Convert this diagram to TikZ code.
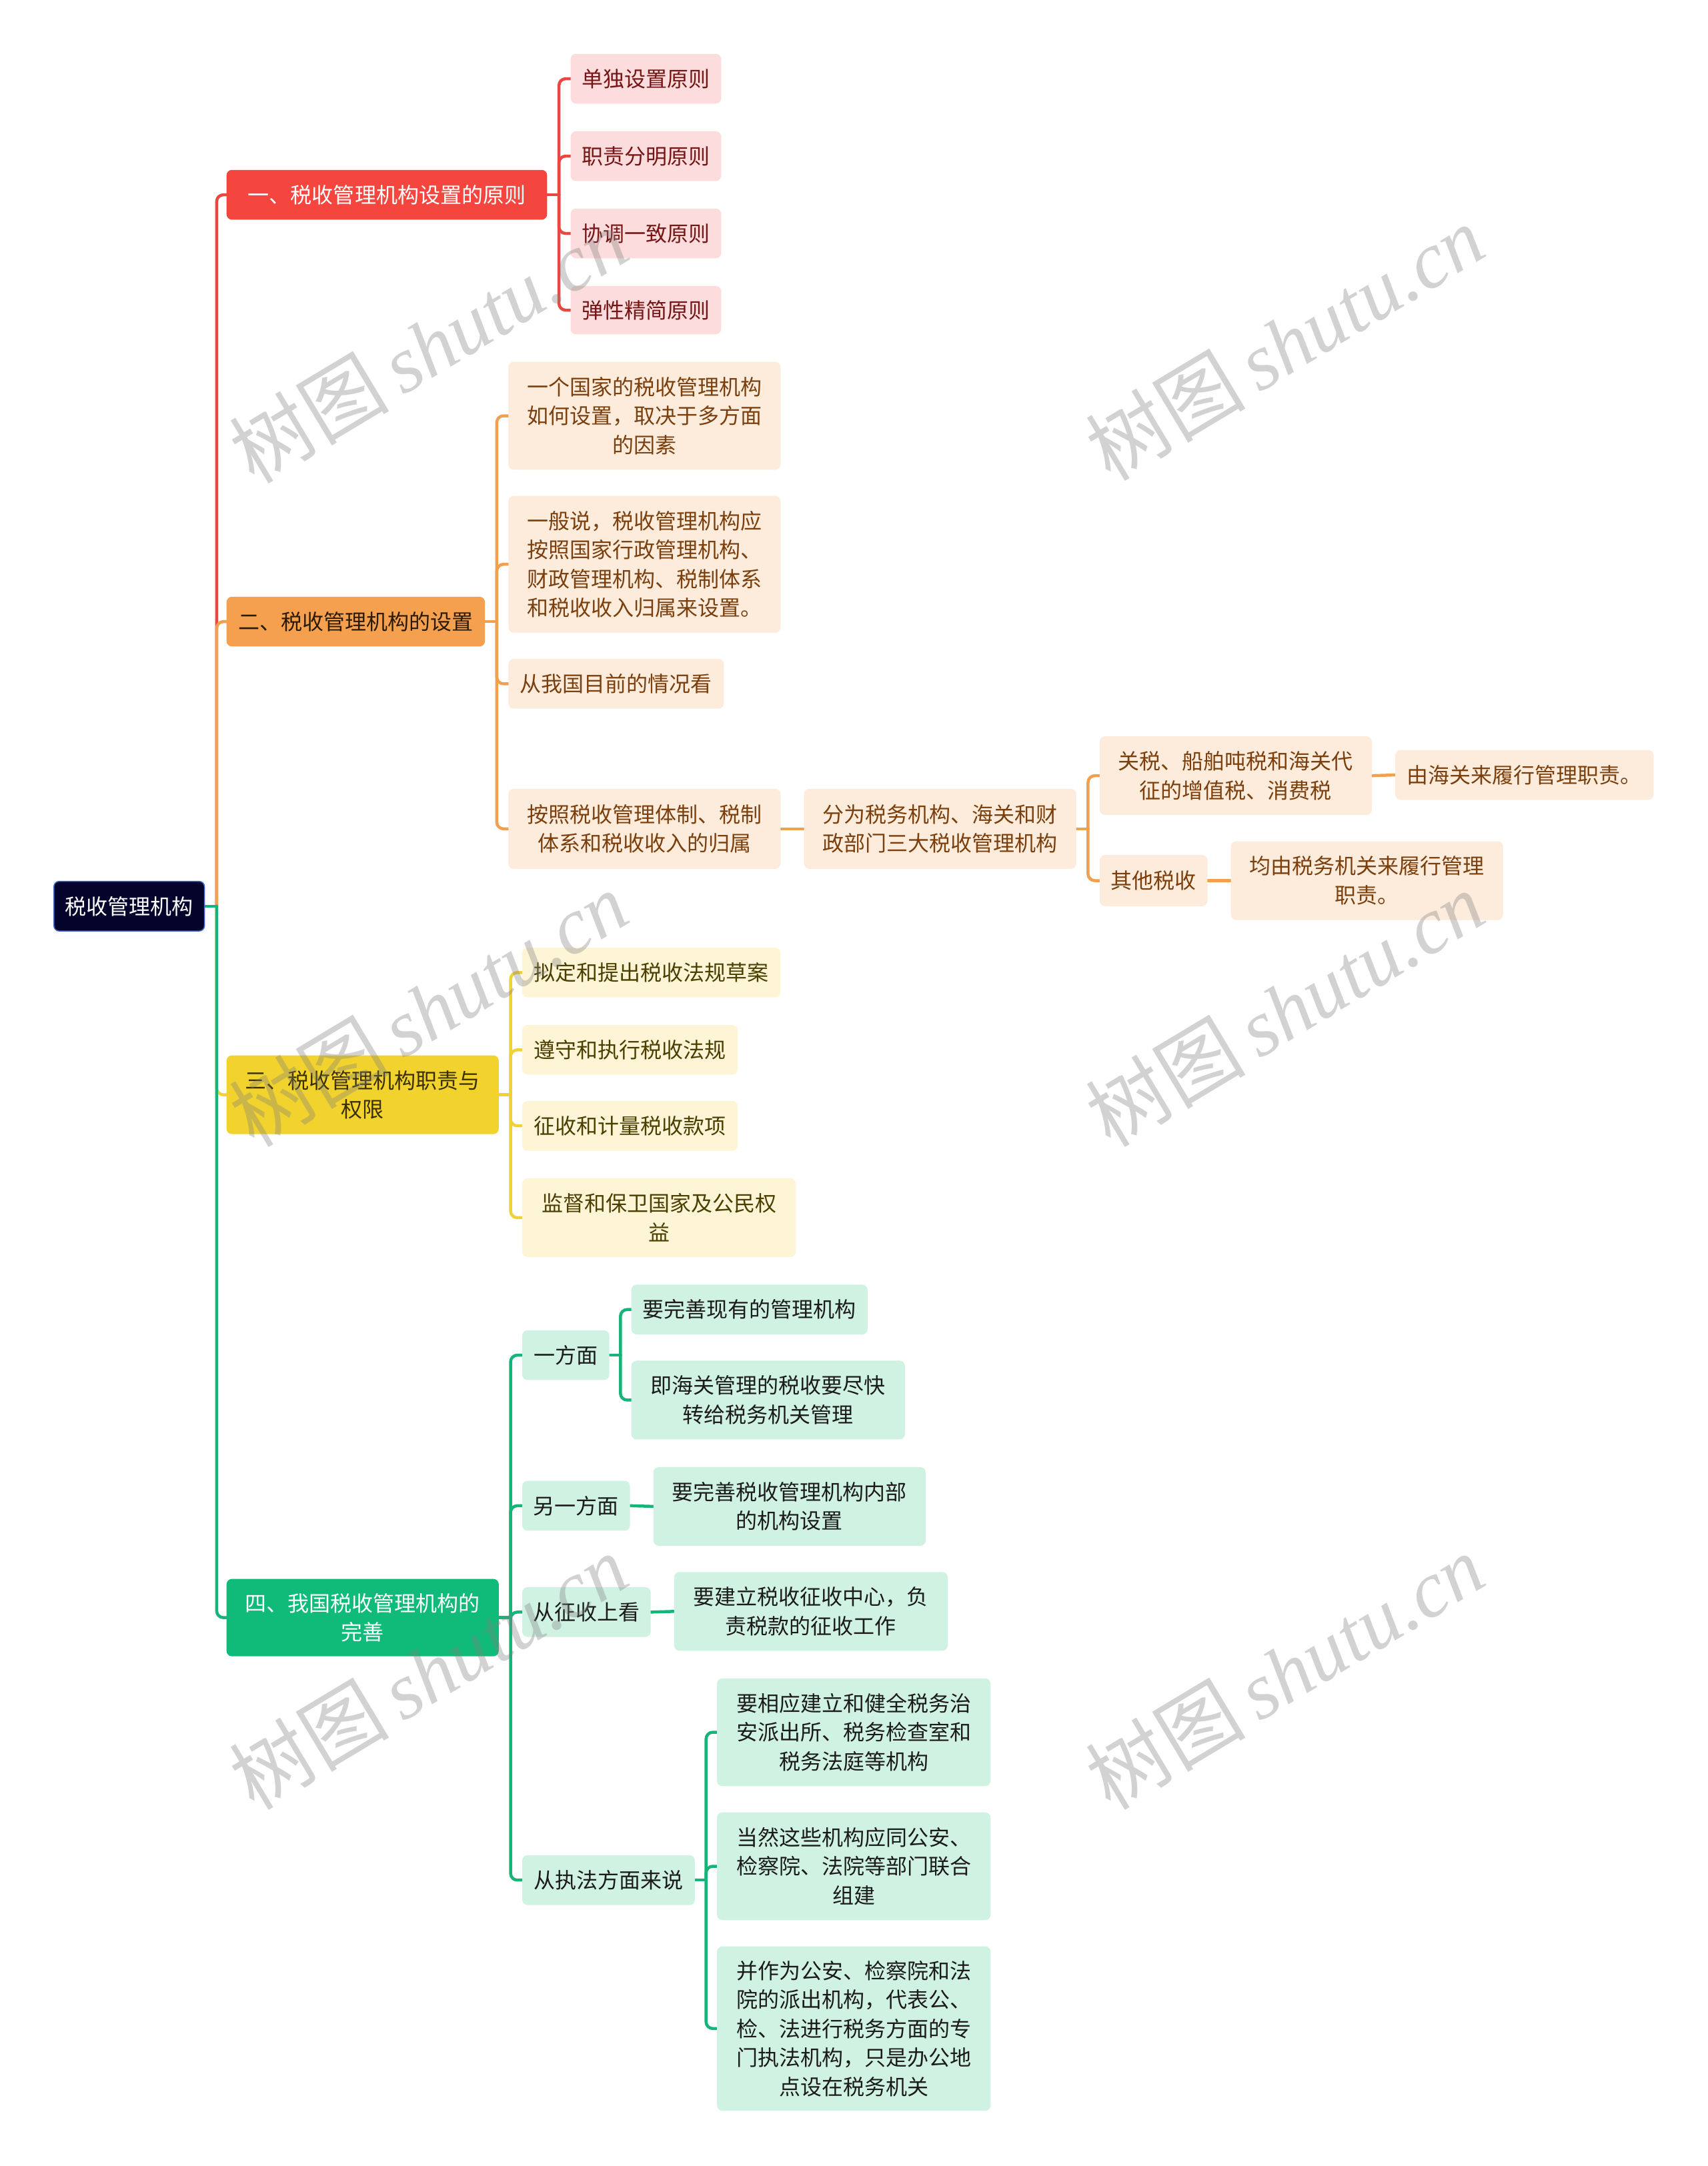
\documentclass[tikz,border=0pt]{standalone}
\usepackage{fontspec}
\setmainfont{Noto Sans CJK SC}
\newfontfamily\wmcjk{Noto Sans CJK SC}
\newfontfamily\wmlat{Liberation Serif}
\usetikzlibrary{calc,backgrounds}
\definecolor{rootfill}{HTML}{03032B}
\definecolor{rootdraw}{HTML}{4267C4}
\definecolor{redfill}{HTML}{F4463E}
\definecolor{redline}{HTML}{E8483F}
\definecolor{pinkfill}{HTML}{FCDCDC}
\definecolor{pinktext}{HTML}{761515}
\definecolor{orgfill}{HTML}{F5A04E}
\definecolor{orgline}{HTML}{F0A050}
\definecolor{orgtext}{HTML}{2B1A05}
\definecolor{peachfill}{HTML}{FDECDC}
\definecolor{peachtext}{HTML}{7B3F0D}
\definecolor{yelfill}{HTML}{F2D22C}
\definecolor{yelline}{HTML}{EFD23A}
\definecolor{yeltext}{HTML}{3A2F00}
\definecolor{lyfill}{HTML}{FDF5D5}
\definecolor{lytext}{HTML}{4A3F00}
\definecolor{grnfill}{HTML}{10BB79}
\definecolor{grnline}{HTML}{17B47A}
\definecolor{mintfill}{HTML}{D0F2E3}
\definecolor{minttext}{HTML}{1B1B1B}
\newcommand\mmbox[7]{\node[#2, minimum width={(#5-#3)*2.0712pt}, minimum height={(#6-#4)*2.0712pt}] (#1) at ({(#3+#5)/2},{(#4+#6)/2}) {#7};}
\begin{document}
\begin{tikzpicture}[x=2.0712pt,y=-2.0712pt,
  base/.style={rounded corners=8pt, inner sep=0pt, align=center, font=\fontsize{32}{43.5}\selectfont},
  rootbox/.style={base, fill=rootfill, draw=rootdraw, line width=1.5pt, text=white},
  redbox/.style={base, fill=redfill, text=white},
  pinkbox/.style={base, fill=pinkfill, text=pinktext},
  orgbox/.style={base, fill=orgfill, text=orgtext},
  peachbox/.style={base, fill=peachfill, text=peachtext},
  yelbox/.style={base, fill=yelfill, text=yeltext},
  lybox/.style={base, fill=lyfill, text=lytext},
  grnbox/.style={base, fill=grnfill, text=white},
  mintbox/.style={base, fill=mintfill, text=minttext},
  lk/.style={line width=4.5pt, line cap=round, line join=round},
  rc/.style={lk, rounded corners=10pt},
  wm/.style={text=gray, text opacity=0.35, inner sep=0pt, rotate=31}
]
\useasboundingbox (0,0) rectangle (1236,1568);

% nodes
\mmbox{root}{rootbox}{39}{638}{148}{674}{税收管理机构}
\mmbox{A}{redbox}{164}{123}{396}{159}{一、税收管理机构设置的原则}
\mmbox{A1}{pinkbox}{413}{39}{522}{75}{单独设置原则}
\mmbox{A2}{pinkbox}{413}{95}{522}{131}{职责分明原则}
\mmbox{A3}{pinkbox}{413}{151}{522}{187}{协调一致原则}
\mmbox{A4}{pinkbox}{413}{207}{522}{242}{弹性精简原则}
\mmbox{B}{orgbox}{164}{432}{351}{468}{二、税收管理机构的设置}
\mmbox{B1}{peachbox}{368}{262}{565}{340}{一个国家的税收管理机构\\如何设置，取决于多方面\\的因素}
\mmbox{B2}{peachbox}{368}{359}{565}{458}{一般说，税收管理机构应\\按照国家行政管理机构、\\财政管理机构、税制体系\\和税收收入归属来设置。}
\mmbox{B3}{peachbox}{368}{477}{524}{513}{从我国目前的情况看}
\mmbox{B4}{peachbox}{368}{571}{565}{629}{按照税收管理体制、税制\\体系和税收收入的归属}
\mmbox{B41}{peachbox}{582}{571}{779}{629}{分为税务机构、海关和财\\政部门三大税收管理机构}
\mmbox{B411}{peachbox}{796}{533}{993}{590}{关税、船舶吨税和海关代\\征的增值税、消费税}
\mmbox{B4111}{peachbox}{1010}{543}{1197}{579}{由海关来履行管理职责。}
\mmbox{B412}{peachbox}{796}{619}{874}{656}{其他税收}
\mmbox{B4121}{peachbox}{891}{609}{1088}{666}{均由税务机关来履行管理\\职责。}
\mmbox{C}{yelbox}{164}{764}{361}{821}{三、税收管理机构职责与\\权限}
\mmbox{C1}{lybox}{378}{686}{565}{722}{拟定和提出税收法规草案}
\mmbox{C2}{lybox}{378}{742}{534}{778}{遵守和执行税收法规}
\mmbox{C3}{lybox}{378}{797}{534}{833}{征收和计量税收款项}
\mmbox{C4}{lybox}{378}{853}{576}{910}{监督和保卫国家及公民权\\益}
\mmbox{D}{grnbox}{164}{1143}{361}{1199}{四、我国税收管理机构的\\完善}
\mmbox{D1}{mintbox}{378}{963}{441}{999}{一方面}
\mmbox{D11}{mintbox}{457}{930}{628}{966}{要完善现有的管理机构}
\mmbox{D12}{mintbox}{457}{985}{655}{1042}{即海关管理的税收要尽快\\转给税务机关管理}
\mmbox{D2}{mintbox}{378}{1072}{456}{1108}{另一方面}
\mmbox{D21}{mintbox}{473}{1062}{670}{1119}{要完善税收管理机构内部\\的机构设置}
\mmbox{D3}{mintbox}{378}{1149}{471}{1185}{从征收上看}
\mmbox{D31}{mintbox}{488}{1138}{686}{1195}{要建立税收征收中心，负\\责税款的征收工作}
\mmbox{D4}{mintbox}{378}{1343}{503}{1379}{从执法方面来说}
\mmbox{D41}{mintbox}{519}{1215}{717}{1293}{要相应建立和健全税务治\\安派出所、税务检查室和\\税务法庭等机构}
\mmbox{D42}{mintbox}{519}{1312}{717}{1390}{当然这些机构应同公安、\\检察院、法院等部门联合\\组建}
\mmbox{D43}{mintbox}{519}{1409}{717}{1528}{并作为公安、检察院和法\\院的派出机构，代表公、\\检、法进行税务方面的专\\门执法机构，只是办公地\\点设在税务机关}

% connectors
\begin{scope}[on background layer]
\fill[white] (0,0) rectangle (1236,1568);
\coordinate (tr) at ($(root.east)+(8.5,0)$);
\draw[rc,redline] (tr) |- (A.west);
\draw[rc,orgline] (tr) |- (B.west);
\draw[rc,yelline] (tr) |- (C.west);
\draw[rc,grnline] (tr) |- (D.west);
\draw[lk,grnline] (root.east) -- (tr);

\coordinate (ta) at ($(A.east)+(8.5,0)$);
\foreach \c in {A1,A2,A3,A4} \draw[rc,redline] (ta) |- (\c.west);
\draw[lk,redline] (A.east) -- (ta);

\coordinate (tb) at ($(B.east)+(8.5,0)$);
\foreach \c in {B1,B2,B3,B4} \draw[rc,orgline] (tb) |- (\c.west);
\draw[lk,orgline] (B.east) -- (tb);
\draw[lk,orgline] (B4.east) -- (B41.west);
\coordinate (tb41) at ($(B41.east)+(8.5,0)$);
\foreach \c in {B411,B412} \draw[rc,orgline] (tb41) |- (\c.west);
\draw[lk,orgline] (B41.east) -- (tb41);
\draw[lk,orgline] (B411.east) -- (B4111.west);
\draw[lk,orgline] (B412.east) -- (B4121.west);

\coordinate (tc) at ($(C.east)+(8.5,0)$);
\foreach \c in {C1,C2,C3,C4} \draw[rc,yelline] (tc) |- (\c.west);
\draw[lk,yelline] (C.east) -- (tc);

\coordinate (td) at ($(D.east)+(8.5,0)$);
\foreach \c in {D1,D2,D3,D4} \draw[rc,grnline] (td) |- (\c.west);
\draw[lk,grnline] (D.east) -- (td);
\coordinate (td1) at ($(D1.east)+(8,0)$);
\foreach \c in {D11,D12} \draw[rc,grnline] (td1) |- (\c.west);
\draw[lk,grnline] (D1.east) -- (td1);
\draw[lk,grnline] (D2.east) -- (D21.west);
\draw[lk,grnline] (D3.east) -- (D31.west);
\coordinate (td4) at ($(D4.east)+(8,0)$);
\foreach \c in {D41,D42,D43} \draw[rc,grnline] (td4) |- (\c.west);
\draw[lk,grnline] (D4.east) -- (td4);
\end{scope}

% watermarks
\foreach \p [count=\i] in {(310,250),(930,248),(310,730),(930,730),(310,1210),(930,1210)}
  \node[wm] (wm\i) at \p {\fontsize{120}{120}\selectfont\wmcjk 树图\,\wmlat\itshape shutu.cn};
\end{tikzpicture}
\end{document}
